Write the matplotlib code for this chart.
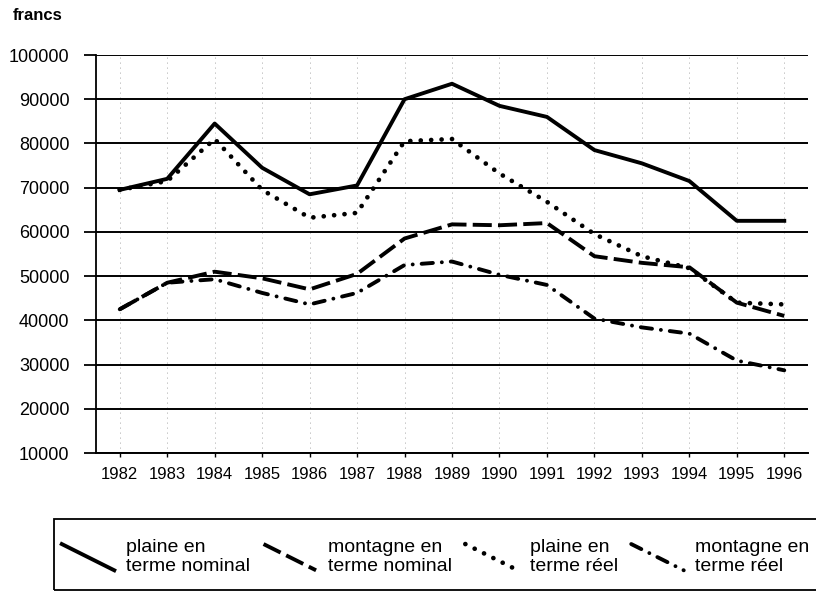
import matplotlib
matplotlib.use("Agg")
import matplotlib.pyplot as plt
from matplotlib.lines import Line2D
from matplotlib.patches import Rectangle
from matplotlib.legend_handler import HandlerLine2D
import numpy as np

plt.rcParams['font.family'] = ['Liberation Sans', 'DejaVu Sans']

years = ["1982", "1983", "1984", "1985", "1986", "1987", "1988", "1989",
         "1990", "1991", "1992", "1993", "1994", "1995", "1996"]
plaine_nominal = [69500, 72000, 84500, 74500, 68500, 70500, 90000, 93500,
                  88500, 86000, 78500, 75500, 71500, 62500, 62500]
montagne_nominal = [42500, 48500, 51000, 49500, 47000, 50500, 58500, 61700,
                    61500, 62000, 54500, 53000, 52000, 44000, 41000]
plaine_reel = [69500, 71500, 81000, 69500, 63200, 64300, 80500, 81000,
               73200, 66800, 59500, 54500, 51800, 44000, 43600]
montagne_reel = [42500, 48500, 49300, 46200, 43600, 46200, 52500, 53300,
                 50300, 48000, 40400, 38400, 37000, 30900, 28700]
labels = ["plaine en\nterme nominal", "montagne en\nterme nominal",
          "plaine en\nterme réel", "montagne en\nterme réel"]
yticks = [10000, 20000, 30000, 40000, 50000, 60000, 70000, 80000, 90000, 100000]

W, H = 816, 594
fig = plt.figure(figsize=(W/100, H/100), dpi=100)
ax = fig.add_axes([96/W, 1-453/H, (808-96)/W, (453-55)/H])

x = np.arange(len(years))
lw = 2.8
l1, = ax.plot(x, plaine_nominal, color='black', lw=lw, solid_joinstyle='round',
              zorder=5)
l2, = ax.plot(x, montagne_nominal, color='black', lw=lw, dashes=(4.9, 1.6),
              zorder=5)
l3, = ax.plot(x, plaine_reel, color='black', lw=3.4, dashes=(0.01, 2.2),
              dash_capstyle='round', zorder=5)
l4, = ax.plot(x, montagne_reel, color='black', lw=lw,
              dashes=(2.9, 2.3, 0.01, 2.3), dash_capstyle='round', zorder=5)

ax.set_xlim(-0.5, len(years) - 0.5)
ax.set_ylim(10000, 100000)
ax.set_yticks(yticks)
ax.set_yticklabels([str(v) for v in yticks])
ax.set_xticks(x)
ax.set_xticklabels(years)
ax.tick_params(axis='y', length=9, width=1.3, pad=10, labelsize=13, direction='out')
ax.tick_params(axis='x', length=3, width=1, pad=7, labelsize=12, direction='out')

for v in yticks:
    ax.axhline(v, color='black', lw=1.4, zorder=1)
for xi in x:
    ax.axvline(xi, color='#888888', lw=0.6, dashes=(1, 5), zorder=0)

for s in ['top', 'right']:
    ax.spines[s].set_visible(False)
ax.spines['left'].set_linewidth(1.3)
ax.spines['bottom'].set_linewidth(1.4)

fig.text(13/W, 1-15/H, "francs", fontsize=12, fontweight='bold',
         va='center', ha='left')


class DiagHandler(HandlerLine2D):
    def create_artists(self, legend, orig_handle, xdescent, ydescent, width,
                       height, fontsize, trans):
        x0, y0 = -xdescent, -ydescent
        line = Line2D([x0, x0 + width], [y0 + height, y0])
        self.update_prop(line, orig_handle, legend)
        line.set_transform(trans)
        return [line]


leg = fig.legend([l1, l2, l3, l4], labels, ncol=4,
                 loc='center left',
                 bbox_to_anchor=(54/W, 1-557/H),
                 bbox_transform=fig.transFigure,
                 handler_map={Line2D: DiagHandler()},
                 handlelength=2.7, handleheight=1.7, handletextpad=0.6,
                 columnspacing=0.7,
                 fontsize=14, frameon=False, borderaxespad=0,
                 borderpad=0.4, labelspacing=0.2)

fig.patches.append(Rectangle((54/W, 1-590/H), (840-54)/W, (590-519)/H,
                             transform=fig.transFigure, fill=False,
                             edgecolor='black', linewidth=1.3))

fig.savefig("out.png", dpi=100)
